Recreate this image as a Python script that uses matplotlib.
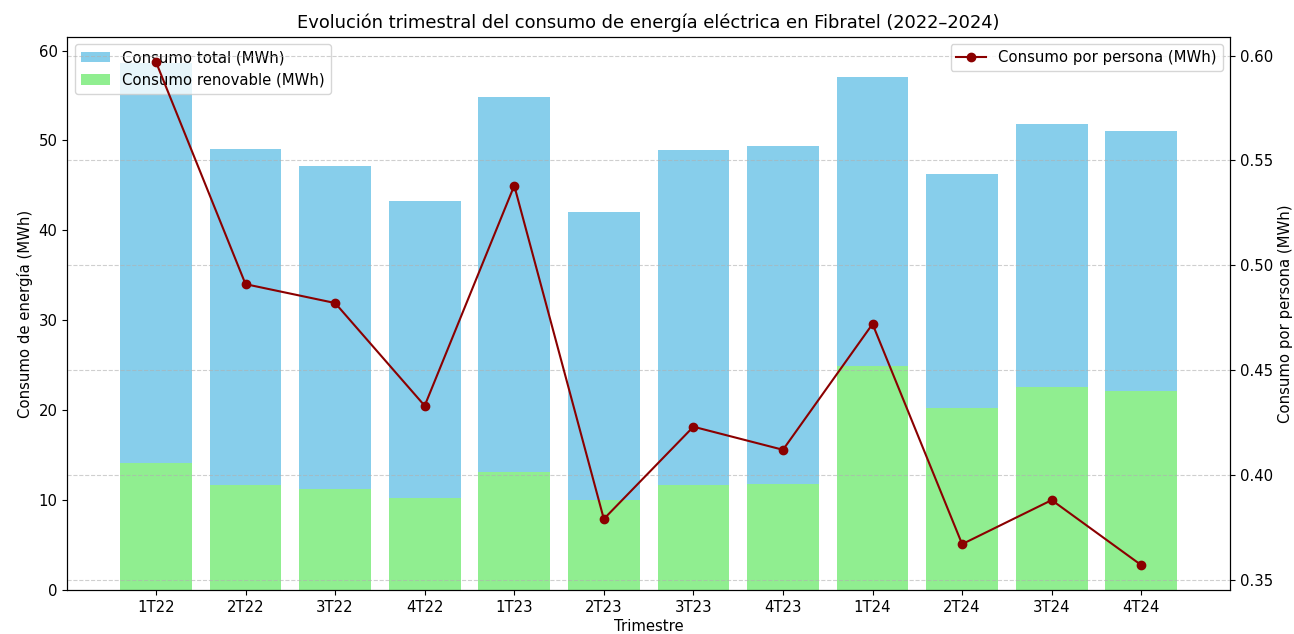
import numpy as np
import matplotlib.pyplot as plt

trimestres = ['1T22', '2T22', '3T22', '4T22', '1T23', '2T23',
              '3T23', '4T23', '1T24', '2T24', '3T24', '4T24']
consumo_total = [58.6, 49.1, 47.2, 43.3, 54.8, 42.0, 48.9, 49.4, 57.1, 46.3, 51.8, 51.0]
consumo_renovable = [14.1, 11.7, 11.3, 10.3, 13.1, 10.0, 11.7, 11.8, 24.9, 20.3, 22.6, 22.2]
consumo_persona = [0.597, 0.491, 0.482, 0.433, 0.538, 0.379, 0.423, 0.412,
                   0.472, 0.367, 0.388, 0.357]

plt.rcParams['font.size'] = 10.7

x = np.arange(len(trimestres))

fig, ax1 = plt.subplots(figsize=(12.94, 6.34), dpi=100)
fig.subplots_adjust(left=0.052, right=0.9505, top=0.942, bottom=0.069)

ax1.bar(x, consumo_total, width=0.8, color='skyblue', label='Consumo total (MWh)')
ax1.bar(x, consumo_renovable, width=0.8, color='lightgreen', label='Consumo renovable (MWh)')
ax1.set_ylabel('Consumo de energía (MWh)')
ax1.set_xlabel('Trimestre', labelpad=3)
ax1.set_xticks(x)
ax1.set_xticklabels(trimestres)
ax1.legend(loc='upper left')

ax2 = ax1.twinx()
ax2.plot(x, consumo_persona, color='darkred', marker='o', label='Consumo por persona (MWh)')
ax2.set_ylabel('Consumo por persona (MWh)')
ax2.grid(axis='y', linestyle='--', alpha=0.6)
ax2.legend(loc='upper right')

plt.title('Evolución trimestral del consumo de energía eléctrica en Fibratel (2022–2024)',
          fontsize=12.9)
plt.savefig('out.png')
